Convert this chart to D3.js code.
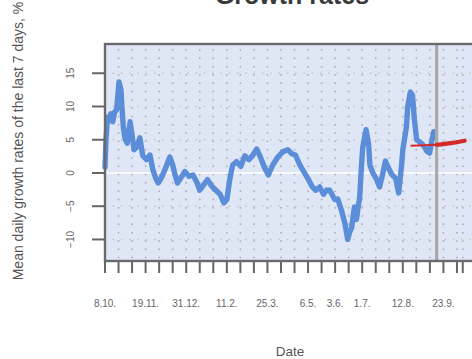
<!DOCTYPE html>
<html><head><meta charset="utf-8">
<script src="https://cdn.jsdelivr.net/npm/d3@7"></script>
<style>body{margin:0;background:#fff;}svg{display:block;font-family:"Liberation Sans",Arial,sans-serif;}</style>
</head><body>
<svg id="c" width="472" height="359"></svg>
<script>
// ---- data ----
const startDate = "2020-10-08";
const days = [0,1,2.6,4,6,8,10,12,14.5,16.5,17.5,19,21,23,26,28,30,33,36,39,43,46.5,49.5,52.5,55,58,62,67,70,72,75,79.5,82.5,87,91,95,98,102,106,110.5,114.7,119,123,126,129,132,136,140.5,144.6,148.8,153,157,161,165,169,173.5,178.7,184,189,193,197,201.5,205.6,209.7,214,218,222,226,229,232.4,237.6,240.7,244.5,248,251,253,255,258,260,263.4,265,266.5,270,272.7,274,277,281,284,287,290,293,296.5,300.6,303.7,306.5,308,311.7,313,315.8,318,320,322.3,327,330.6,332.6,335.7,337.8,340,341.4];
const growth = [0.9,5,8.4,8.0,8.9,7.7,9.2,9.5,13.7,12.5,10,6.8,5,4.5,7.7,5.7,3.5,3.9,5.3,2.6,2,2.7,0.5,-0.8,-1.5,-0.8,0.5,2.4,1.2,0,-1.5,-0.5,0.2,-0.5,-0.3,-1.4,-2.6,-1.8,-1.0,-2,-2.6,-3.2,-4.5,-4,-1,1.2,1.7,1,2.6,2,2.7,3.6,2.3,0.8,-0.3,1.2,2.4,3.2,3.5,2.9,2.7,1.2,0.2,-0.8,-2,-2.6,-2.1,-3.2,-2.6,-2.6,-4,-3.9,-5.6,-7.5,-10,-8.9,-8.3,-5.1,-7,-3.6,0.5,3.8,6.5,4.2,1.2,0,-1,-2.1,-0.3,1.8,0.8,-0.2,-0.8,-3,0.8,3.5,6.9,9.8,12.2,11.7,8,5,4.5,3.9,3.3,3.0,4.7,6.2,5.3];
const fitDays = [316, 343];
const fitValues = [4.1, 4.25];
const forecastDays = [343, 358, 372];
const forecastValues = [4.25, 4.5, 4.85];
const cutoffDay = 343;
const yTicks = [-10,-5,0,5,10,15];
const tickDays = d3.range(0, 365, 14).concat([370]);
const labelDates = ["2020-10-08","2020-11-19","2020-12-31","2021-02-11","2021-03-25","2021-05-06","2021-06-03","2021-07-01","2021-08-12","2021-09-23"];
const titleText = "Growth rates";
const xTitle = "Date";
const yTitle = "Mean daily growth rates of the last 7 days, %";

// ---- layout ----
const L = 105, R = 479, T = 44, B = 261;
const t0 = new Date(startDate + "T00:00:00Z");
const dayToDate = d => new Date(t0.getTime() + d * 864e5);
const x = d3.scaleUtc().domain([t0, dayToDate(386.8)]).range([L, R]);
const y = d3.scaleLinear().domain([-13.24, 19.4]).range([B, T]);
const svg = d3.select("#c");

svg.append("rect").attr("x", L).attr("y", T).attr("width", R - L).attr("height", B - T).attr("fill", "#dfe7f7");

// grid
const g = svg.append("g");
g.selectAll("line.v").data(tickDays.filter(d => d > 0)).join("line")
  .attr("x1", d => x(dayToDate(d))).attr("x2", d => x(dayToDate(d)))
  .attr("y1", T).attr("y2", B)
  .attr("stroke", "#a8a8a8").attr("stroke-width", 1.5)
  .attr("stroke-dasharray", "1.5,6.8").attr("stroke-dashoffset", -5.3);
g.selectAll("line.h").data(yTicks.filter(v => v !== 0)).join("line")
  .attr("x1", L).attr("x2", R).attr("y1", d => y(d)).attr("y2", d => y(d))
  .attr("stroke", "#c9c3b8").attr("stroke-width", 1.5)
  .attr("stroke-dasharray", "1.5,6.8").attr("stroke-dashoffset", -7.5);
svg.append("line").attr("x1", L).attr("x2", R).attr("y1", y(0)).attr("y2", y(0))
  .attr("stroke", "#ffffff").attr("stroke-width", 1.6);

// lines
const line = d3.line().x(d => x(dayToDate(d[0]))).y(d => y(d[1]));
svg.append("path").datum(days.map((d, i) => [d, growth[i]]))
  .attr("d", line).attr("fill", "none").attr("stroke", "#5b8dd8")
  .attr("stroke-width", 5.4).attr("stroke-linejoin", "round").attr("stroke-linecap", "round");

svg.append("line").attr("x1", x(dayToDate(cutoffDay))).attr("x2", x(dayToDate(cutoffDay)))
  .attr("y1", T).attr("y2", B).attr("stroke", "#a9a9a9").attr("stroke-width", 3.2);

const curve = d3.line().curve(d3.curveMonotoneX).x(d => x(dayToDate(d[0]))).y(d => y(d[1]));
svg.append("path").datum(fitDays.map((d, i) => [d, fitValues[i]]))
  .attr("d", curve).attr("fill", "none").attr("stroke", "#d42a2a").attr("stroke-width", 2);
svg.append("path").datum(forecastDays.map((d, i) => [d, forecastValues[i]]))
  .attr("d", curve).attr("fill", "none").attr("stroke", "#d42a2a").attr("stroke-width", 4.2).attr("stroke-linecap", "round");

// frame
svg.append("rect").attr("x", L).attr("y", T).attr("width", R - L).attr("height", B - T)
  .attr("fill", "none").attr("stroke", "#6a6a6a").attr("stroke-width", 2.4);

// y axis ticks
const ya = svg.append("g");
ya.selectAll("line").data(yTicks).join("line")
  .attr("x1", 92).attr("x2", L).attr("y1", d => y(d)).attr("y2", d => y(d))
  .attr("stroke", "#666").attr("stroke-width", 2);
ya.selectAll("text").data(yTicks).join("text")
  .attr("transform", d => `translate(73.5,${y(d)}) rotate(-90)`)
  .attr("text-anchor", "middle").attr("font-size", 10).attr("fill", "#666")
  .text(d => d < 0 ? "\u2212" + Math.abs(d) : d);

// x axis ticks
const xa = svg.append("g");
xa.selectAll("line").data(tickDays).join("line")
  .attr("x1", d => x(dayToDate(d))).attr("x2", d => x(dayToDate(d)))
  .attr("y1", B + 1).attr("y2", 273)
  .attr("stroke", "#666").attr("stroke-width", 2);
const fmt = d3.utcFormat("%-d.%-m.");
xa.selectAll("text").data(labelDates).join("text")
  .attr("x", d => x(new Date(d + "T00:00:00Z"))).attr("y", 307)
  .attr("text-anchor", "middle").attr("font-size", 10).attr("fill", "#666")
  .text(d => fmt(new Date(d + "T00:00:00Z")));

// titles
svg.append("text").attr("x", (L + R) / 2).attr("y", 3.5).attr("text-anchor", "middle")
  .attr("font-size", 25).attr("font-weight", "bold").attr("fill", "#3a3a3a").text(titleText);
svg.append("text").attr("x", 290).attr("y", 356).attr("text-anchor", "middle")
  .attr("font-size", 13.5).attr("fill", "#555").text(xTitle);
svg.append("text").attr("transform", "translate(23,141) rotate(-90)").attr("text-anchor", "middle")
  .attr("font-size", 14).attr("fill", "#555").text(yTitle);
</script>
</body></html>
